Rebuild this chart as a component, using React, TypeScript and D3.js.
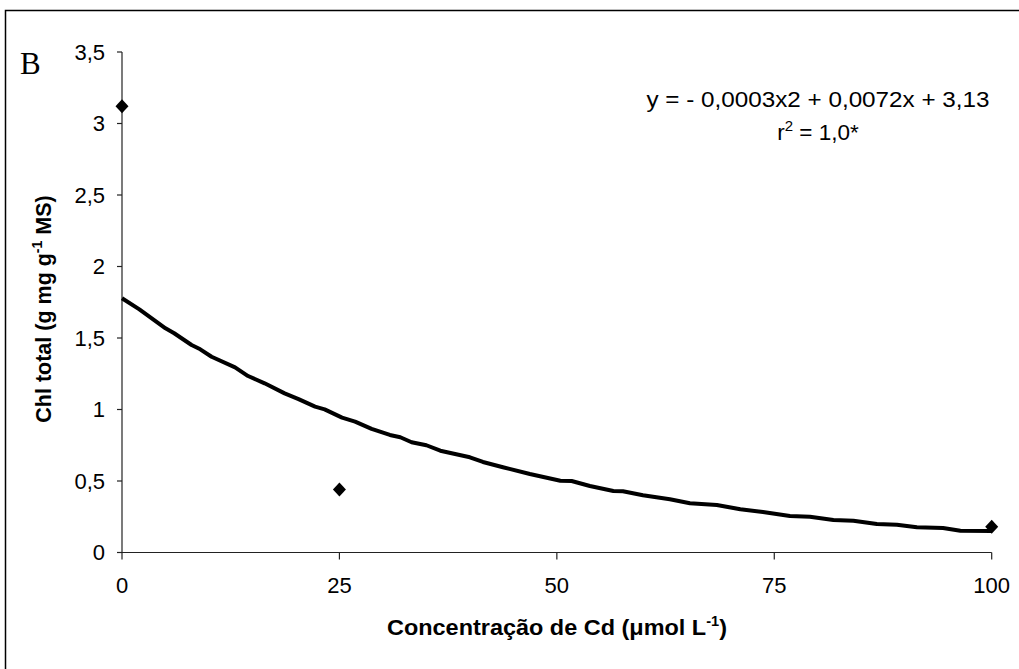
import React from "react";
import * as d3 from "d3";

const curveX = [0, 2, 5, 6, 8, 9, 10.3, 13, 14.5, 16.4, 18.7, 20.3, 22.2, 23.3, 25.3, 26.8, 28.7, 30.8, 32, 33.3, 35, 36.6, 40, 41.5, 43.8, 46.9, 50.4, 51.7, 53.8, 56.5, 57.6, 59.9, 63, 65.3, 68.4, 71.1, 73.7, 76.8, 79.1, 81.8, 84.1, 86.8, 89.1, 91.4, 94.4, 96.4, 100];
const curveY = [1.778, 1.7, 1.568, 1.533, 1.451, 1.421, 1.369, 1.295, 1.234, 1.183, 1.113, 1.073, 1.02, 1.001, 0.943, 0.915, 0.864, 0.822, 0.806, 0.771, 0.75, 0.712, 0.666, 0.633, 0.596, 0.549, 0.502, 0.5, 0.465, 0.43, 0.428, 0.4, 0.372, 0.344, 0.332, 0.302, 0.283, 0.255, 0.25, 0.227, 0.222, 0.199, 0.194, 0.176, 0.171, 0.152, 0.15];

const pointX = [0, 25, 100];
const pointY = [3.12, 0.44, 0.18];

const xTicks = [0, 25, 50, 75, 100];
const yTicks = [0, 0.5, 1, 1.5, 2, 2.5, 3, 3.5];
const yTickLabels = ["0", "0,5", "1", "1,5", "2", "2,5", "3", "3,5"];

const W = 1019;
const H = 669;
const left = 122;
const right = 991.7;
const top = 52;
const bottom = 552.5;

export default function App() {
  const x = d3.scaleLinear().domain([0, 100]).range([left, right]);
  const y = d3.scaleLinear().domain([0, 3.5]).range([bottom, top]);
  const pts = curveX.map((v, i) => [v, curveY[i]] as [number, number]);
  const line = d3
    .line<[number, number]>()
    .x((d) => x(d[0]))
    .y((d) => y(d[1]));
  const diamond = (cx: number, cy: number) =>
    `M${cx},${cy - 7}L${cx + 6.5},${cy}L${cx},${cy + 7}L${cx - 6.5},${cy}Z`;
  const font = "Arial, 'Liberation Sans', sans-serif";
  return (
    <svg
      width={W}
      height={H}
      style={{ position: "absolute", left: 0, top: 0, background: "#fff" }}
    >
      <rect x={5.5} y={10.5} width={1100} height={700} fill="#fff" stroke="#000" strokeWidth={1.5} />
      <text x={20} y={74} fontFamily="'Times New Roman', 'Liberation Serif', serif" fontSize={31}>
        B
      </text>
      <line x1={left} x2={left} y1={top} y2={bottom} stroke="#222" strokeWidth={1.2} />
      <line x1={left} x2={right} y1={bottom} y2={bottom} stroke="#222" strokeWidth={1.2} />
      {yTicks.map((t, i) => (
        <g key={"y" + i}>
          <line x1={left - 5} x2={left} y1={y(t)} y2={y(t)} stroke="#222" strokeWidth={1.2} />
          <text x={105} y={y(t) + 7.5} textAnchor="end" fontFamily={font} fontSize={22}>
            {yTickLabels[i]}
          </text>
        </g>
      ))}
      {xTicks.map((t, i) => (
        <g key={"x" + i}>
          <line x1={x(t)} x2={x(t)} y1={bottom} y2={bottom + 7} stroke="#222" strokeWidth={1.2} />
          <text x={x(t)} y={593} textAnchor="middle" fontFamily={font} fontSize={22}>
            {String(t)}
          </text>
        </g>
      ))}
      <path d={line(pts) || ""} fill="none" stroke="#000" strokeWidth={4} strokeLinejoin="round" />
      {pointX.map((v, i) => (
        <path key={"p" + i} d={diamond(x(v), y(pointY[i]))} fill="#000" />
      ))}
      <text x={818} y={107} textAnchor="middle" fontFamily={font} fontSize={22.5} textLength={343} lengthAdjust="spacingAndGlyphs">
        y = - 0,0003x2 + 0,0072x + 3,13
      </text>
      <text x={818} y={140} textAnchor="middle" fontFamily={font} fontSize={22.5}>
        r<tspan dy={-9} fontSize={15}>2</tspan>
        <tspan dy={9}> = 1,0*</tspan>
      </text>
      <text
        transform={`translate(51,309) rotate(-90)`}
        textAnchor="middle"
        fontFamily={font}
        fontSize={21.5}
        fontWeight="bold"
      >
        Chl total (g mg g<tspan dy={-9} fontSize={14}>-1</tspan>
        <tspan dy={9}> MS)</tspan>
      </text>
      <text x={557} y={635} textAnchor="middle" fontFamily={font} fontSize={22.5} fontWeight="bold" textLength={340} lengthAdjust="spacingAndGlyphs">
        Concentração de Cd (μmol L<tspan dy={-9} fontSize={14}>-1</tspan>
        <tspan dy={9}>)</tspan>
      </text>
    </svg>
  );
}
